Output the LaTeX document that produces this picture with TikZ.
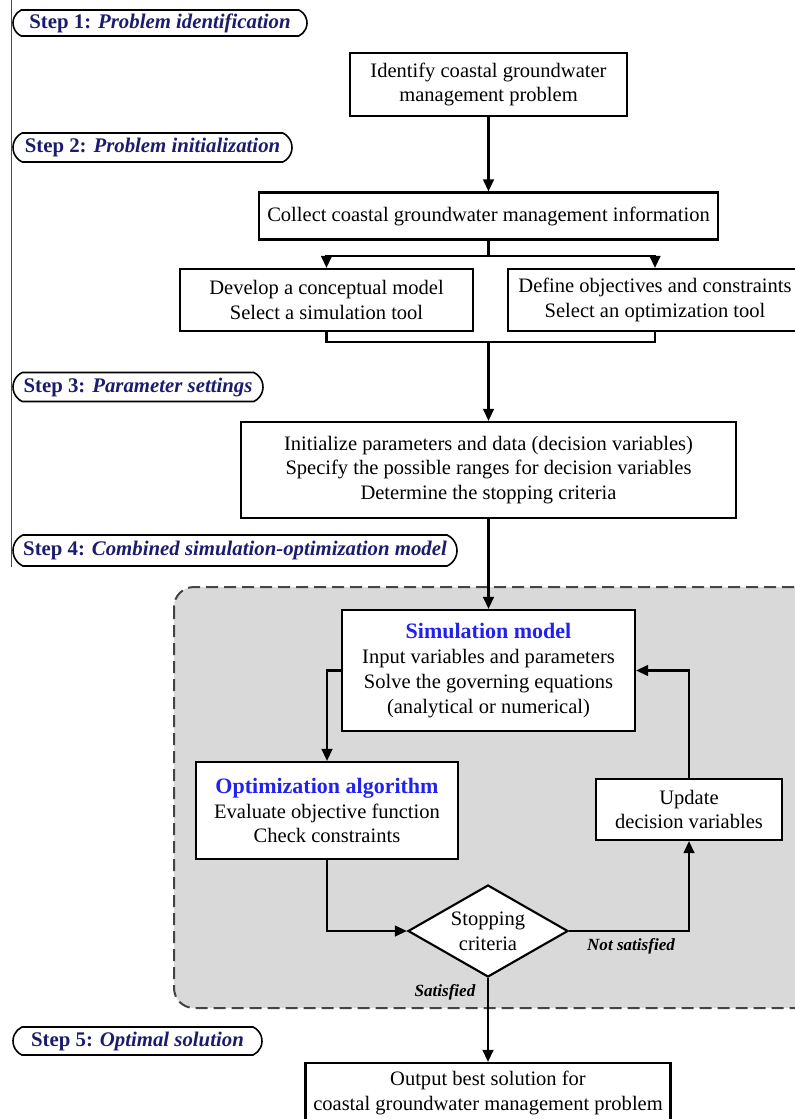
\documentclass[tikz,border=0pt]{standalone}
\usepackage{fontspec}
\setmainfont{Liberation Serif}
\usetikzlibrary{arrows.meta,shapes.geometric,shapes.misc}
\definecolor{navy}{HTML}{1C1C6E}
\definecolor{headblue}{HTML}{2222F0}
\definecolor{shade}{HTML}{D9D9D9}
\definecolor{dashgray}{HTML}{444444}
\newcommand{\bodyfont}{\fontsize{15.4}{18.6}\selectfont}
\newcommand{\headfont}{\fontsize{16.5}{19}\selectfont\bfseries\color{headblue}}
\begin{document}
\begin{tikzpicture}[x=0.75pt,y=-0.75pt,
  wh/.style 2 args={minimum width=#1*0.75pt, minimum height=#2*0.75pt},
  box/.style={draw, line width=1.6pt, fill=white, inner sep=0pt, align=center, font=\bodyfont},
  steplabel/.style={draw, line width=1.2pt, rounded rectangle, rounded rectangle arc length=130, inner sep=0pt, font=\fontsize{15.6}{18}\selectfont\bfseries, text=navy},
  conn/.style={line width=1.6pt},
  arr/.style={conn, -{Triangle[length=9pt,width=8pt]}},
  lbl/.style={font=\fontsize{12.8}{15}\selectfont\bfseries\itshape, inner sep=0pt},
  region/.style={draw=dashgray, line width=1.5pt, dash pattern=on 9pt off 4.5pt, fill=shade, rounded corners=15pt}
]
\useasboundingbox (0,0) rectangle (794,1119);

% left rule
\draw[line width=1pt, black!70] (11.5,0) -- (11.5,567);

% shaded region
\draw[region] (174,587) rectangle (815,1008);

% step labels
\node[steplabel, wh={294}{26}] (s1) at (160,23) {Step 1: \textit{Problem identification}};
\node[steplabel, wh={279}{29}] (s2) at (152.5,147.5) {Step 2: \textit{Problem initialization}};
\node[steplabel, wh={250}{29}] (s3) at (138,387) {Step 3: \textit{Parameter settings}};
\node[steplabel, wh={444}{31}] (s4) at (235,550.5) {Step 4: \textit{Combined simulation-optimization model}};
\node[steplabel, wh={249}{28}] (s5) at (137.5,1041) {Step 5: \textit{Optimal solution}};

% boxes
\node[box, wh={277}{63}] (ident) at (488.5,84.5) {Identify coastal groundwater\\management problem};
\node[box, wh={459}{47}] (collect) at (488.5,216) {Collect coastal groundwater management information};
\node[box, wh={293}{62}] (devel) at (326.5,300) {Develop a conceptual model\\Select a simulation tool};
\node[box, wh={294}{62}] (defin) at (655,300) {Define objectives and constraints\\Select an optimization tool};
\node[box, wh={495}{96}] (init) at (488.5,470) {Initialize parameters and data (decision variables)\\Specify the possible ranges for decision variables\\Determine the stopping criteria};
\node[box, wh={293}{121}] (sim) at (488.5,670.5) {{\headfont Simulation model}\\Input variables and parameters\\Solve the governing equations\\(analytical or numerical)};
\node[box, wh={262}{97}] (opt) at (327,810.5) {{\headfont Optimization algorithm}\\Evaluate objective function\\Check constraints};
\node[box, wh={186}{61}] (upd) at (689,809.5) {Update\\decision variables};
\node[box, diamond, aspect=1.74, wh={160}{92}] (dia) at (488,931) {Stopping\\criteria};
\node[box, wh={365}{60}] (out) at (488,1093) {Output best solution for\\coastal groundwater management problem};

% labels
\node[lbl] (ns) at (631,946) {Not satisfied};
\node[lbl] (sat) at (445,992) {Satisfied};

% connectors
\coordinate (sp) at (488.5,256);
\coordinate (mg) at (488.5,342);
\draw[arr] (ident) -- (collect);
\draw[conn] (collect.south) -- (sp);
\draw[arr] (sp) -| (devel.north);
\draw[arr] (sp) -| (defin.north);
\draw[conn] (devel.south) |- (mg) -| (defin.south);
\draw[arr] (mg) -- (init.north);
\draw[arr] (init.south) -- (sim.north);
\draw[arr] (sim.west) -| (opt.north);
\draw[arr] (opt.south) |- (dia.west);
\draw[arr] (dia.east) -| (upd.south);
\draw[arr] (upd.north) |- (sim.east);
\draw[arr] (dia.south) -- (out.north);
\end{tikzpicture}
\end{document}
